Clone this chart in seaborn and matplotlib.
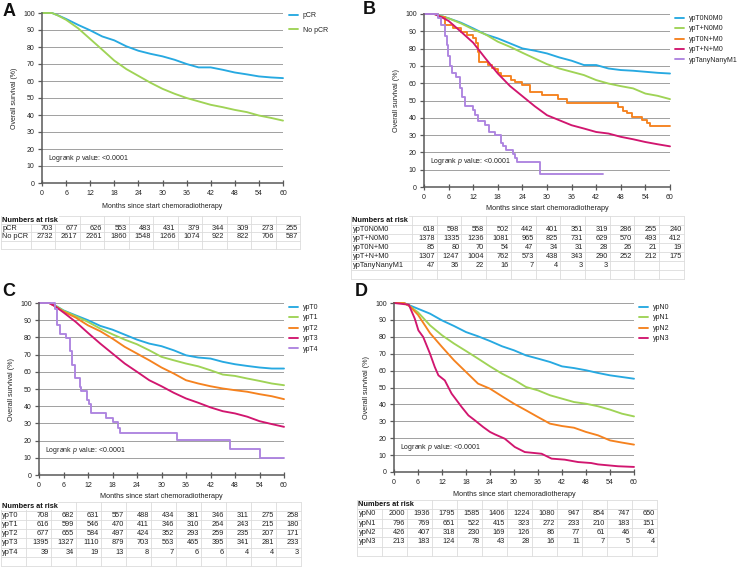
import matplotlib
matplotlib.use("Agg")
import matplotlib.pyplot as plt
import seaborn as sns

# =============================
# Data
# =============================
months = [0, 2.5, 4, 6, 9, 12, 15, 18, 21, 24, 27, 30, 33, 36, 39, 42, 45, 48, 51, 54, 57, 60]

# Panel A
os_pcr = [100, 100, 98.6, 96.5, 93, 89.8, 86.2, 83.9, 80.4, 77.8, 76, 74.5, 72.5, 70, 68, 68, 66.6, 65, 63.9, 62.7, 62.1, 61.7]
os_no_pcr = [100, 100, 98.5, 96, 91, 84.7, 78.4, 72, 67, 63, 59, 55.4, 52.5, 50, 48, 46, 44.6, 43, 41.7, 39.7, 38.3, 36.7]

# Panel B
os_t0n0m0 = [100, 100, 99, 97.5, 95, 91.7, 88.2, 85.9, 83, 80.1, 78.8, 77.2, 74.9, 73, 70.5, 70.5, 68.5, 67.6, 67.2, 66.6, 66, 65.6]
os_tpn0m0 = [100, 100, 99, 97.5, 94.6, 91.1, 88.2, 84, 81, 77.6, 74.3, 71, 68.5, 66.6, 64.7, 61.8, 59.8, 58.3, 57, 54, 52.7, 50.8]
os_tpnpm0 = [100, 100, 98.5, 96, 89.8, 83.4, 74.3, 65.6, 58.3, 52.5, 46.7, 41.5, 38.6, 35.7, 33.8, 31.8, 30.9, 29, 27.6, 26, 24.7, 23.5]
t_t0npm0 = [0, 3.5, 5, 7, 9, 10.5, 12, 12.8, 13.1, 13.5, 15.6, 16.5, 17.3, 18.1, 18.9, 21.3, 22.2, 23.8, 25.8, 28.7, 32.7, 34.8, 47.4, 48.6, 49.4, 50.7, 53.1, 54.3, 55.1, 60]
os_t0npm0 = [100, 98, 93.5, 92, 89.5, 87.8, 86, 83, 78, 72, 70.5, 69, 68, 66, 64, 62, 60.5, 59, 55, 53, 51, 48.5, 46.5, 44, 42.5, 40.5, 39, 37, 35, 35]
t_m1 = [0, 3.5, 4.2, 5, 5.5, 5.9, 6.3, 6.8, 7.9, 8.7, 9.3, 9.9, 12, 12.4, 13.2, 14.8, 15.8, 17.3, 18.9, 19.3, 20.1, 21.7, 22.3, 22.8, 28.3, 43.7]
os_m1 = [100, 97.8, 93.5, 87.5, 82, 76, 70, 66, 63.5, 57, 52, 47, 44.7, 41.5, 38.3, 35.7, 31.9, 29.8, 25.5, 23.5, 21.3, 19, 17, 14.5, 7.3, 7.3]

# Panel C
os_t0 = [100, 100, 98.5, 95.7, 92.8, 90, 86.7, 84.5, 81.6, 78.7, 76.4, 74.9, 72.5, 69.6, 68.3, 67.7, 65.8, 64.4, 63.4, 62.5, 61.9, 61.9]
os_t1 = [100, 100, 98.5, 95.5, 92.3, 89, 85.1, 81.8, 78.7, 76, 72.5, 68.7, 66.7, 64.8, 63.2, 60.9, 58.4, 57.6, 56.1, 54.7, 53.2, 52.2]
os_t2 = [100, 100, 98, 95, 91.5, 87, 83.6, 79.3, 74.5, 70.6, 66.7, 62.5, 59, 55.1, 53.2, 51.6, 50.3, 49.3, 48.4, 47, 45.8, 44.1]
os_t3 = [100, 100, 98, 94.5, 89, 82.6, 76.4, 70.6, 64.8, 60, 55.1, 51.6, 47.8, 44.5, 42, 39.3, 37.1, 35.8, 33.9, 31.3, 29.6, 28]
t_t4 = [0, 3.9, 4.4, 5.2, 6.7, 7.5, 8.2, 8.7, 10, 10.4, 11.8, 12.3, 12.8, 16.5, 18, 19.4, 19.9, 33.7, 46.8, 54, 60]
os_t4 = [100, 96.7, 87, 82, 79.5, 72, 64, 56.5, 51.3, 48.7, 43.6, 41, 35.9, 33, 30.8, 27.3, 24.2, 20.4, 15.3, 10.1, 10.1]

# Panel D
os_n0 = [100, 100, 98.5, 96.6, 93.7, 89.7, 86.4, 82.8, 80.3, 77.5, 74.4, 72, 69, 67.1, 65.1, 62.5, 61.5, 60.2, 58.6, 57.2, 56.2, 55.2]
os_n1 = [100, 100, 98, 94.5, 86.8, 80.9, 76, 71.6, 67.1, 62.5, 58.2, 54.6, 50.3, 48.3, 45.4, 43.4, 41.4, 40.4, 38.9, 36.9, 34.5, 32.9]
os_n2 = [100, 100, 98, 93, 82.2, 74, 66.1, 59.2, 52.3, 49.3, 44.8, 40.4, 36.5, 32.5, 28.6, 27.2, 26.2, 23.7, 21.7, 18.7, 17.4, 16.2]
t_n3 = [0, 3.7, 5.2, 6.1, 7.3, 9, 10.2, 11.1, 12.7, 14.4, 16.9, 18.6, 20.2, 22.3, 24, 25.2, 27.7, 30.2, 32.7, 36.9, 39.4, 42.7, 46, 49.3, 51, 56, 60]
os_n3 = [100, 99, 90.7, 83.8, 79.9, 70, 62.1, 57.2, 54.2, 46.4, 38.5, 33.5, 30.6, 26.6, 23.7, 22.3, 19.7, 14.8, 11.8, 10.8, 7.9, 7.3, 5.9, 5.3, 4.5, 3.4, 3]

# Numbers at risk
risk_a = {"pCR": [703, 677, 626, 553, 483, 431, 379, 344, 309, 273, 255],
          "No pCR": [2732, 2617, 2261, 1860, 1548, 1266, 1074, 922, 822, 706, 587]}
risk_b = {"ypT0N0M0": [618, 598, 558, 502, 442, 401, 351, 319, 286, 255, 240],
          "ypT+N0M0": [1378, 1335, 1236, 1081, 965, 825, 731, 629, 570, 493, 412],
          "ypT0N+M0": [85, 80, 70, 54, 47, 34, 31, 28, 26, 21, 19],
          "ypT+N+M0": [1307, 1247, 1004, 762, 573, 438, 343, 290, 252, 212, 175],
          "ypTanyNanyM1": [47, 36, 22, 16, 7, 4, 3, 3, None, None, None]}
risk_c = {"ypT0": [708, 682, 631, 557, 488, 434, 381, 346, 311, 275, 258],
          "ypT1": [616, 599, 546, 470, 411, 346, 310, 264, 243, 215, 180],
          "ypT2": [677, 655, 584, 497, 424, 352, 293, 259, 235, 207, 171],
          "ypT3": [1395, 1327, 1110, 879, 703, 563, 465, 395, 341, 281, 233],
          "ypT4": [39, 34, 19, 13, 8, 7, 6, 6, 4, 4, 3]}
risk_d = {"ypN0": [2000, 1936, 1795, 1585, 1406, 1224, 1080, 947, 854, 747, 650],
          "ypN1": [796, 769, 651, 522, 415, 323, 272, 233, 210, 183, 151],
          "ypN2": [426, 407, 318, 230, 169, 126, 86, 77, 61, 46, 40],
          "ypN3": [213, 183, 124, 78, 43, 28, 16, 11, 7, 5, 4]}

CYAN, GREEN, ORANGE, MAGENTA, PURPLE = "#27a9e1", "#9fd356", "#f5821f", "#d1166f", "#ad84e0"

# =============================
# Figure setup
# =============================
sns.set_style("white")
plt.rcParams["font.family"] = ["Liberation Sans", "DejaVu Sans"]
plt.rcParams["mathtext.fontset"] = "custom"
plt.rcParams["mathtext.it"] = "Liberation Sans:italic"
plt.rcParams["mathtext.rm"] = "Liberation Sans"

W, H = 738, 568
FS = 5.0       # ticks, legend, logrank note
TFS = 5.3      # risk tables
fig = plt.figure(figsize=(W / 100, H / 100), dpi=100)

# overlay in pixel units for tables and panel letters
over = fig.add_axes([0, 0, 1, 1])
over.set_xlim(0, W)
over.set_ylim(H, 0)
over.axis("off")


def px_axes(left, top, width, height):
    return fig.add_axes([left / W, 1 - (top + height) / H, width / W, height / H])


def km_panel(box, curves, leg_xy, leg_space, ylab_x, xlab_y, lab_fs=5.2):
    left, top, width, height = box
    ax = px_axes(*box)
    for label, t, s, color, steps in curves:
        sns.lineplot(x=t, y=s, ax=ax, color=color, lw=1.35, label=label,
                     estimator=None, sort=False, clip_on=False,
                     drawstyle="steps-post" if steps else "default")
    ax.set_xlim(0, 60)
    ax.set_ylim(0, 100)
    ax.set_xticks(range(0, 61, 6))
    ax.set_yticks(range(0, 101, 10))
    ax.grid(axis="y", color="#a0a0a0", lw=0.7)
    ax.grid(axis="x", visible=False)
    ax.set_axisbelow(True)
    for sp in ["top", "right"]:
        ax.spines[sp].set_visible(False)
    for sp in ["left", "bottom"]:
        ax.spines[sp].set_color("#595959")
        ax.spines[sp].set_linewidth(1.1)
    ax.tick_params(axis="x", bottom=True, direction="inout", length=5, width=0.9,
                   color="#595959", labelsize=FS, pad=2.3, labelcolor="#222222")
    ax.tick_params(axis="y", left=True, direction="out", length=3, width=0.9,
                   color="#595959", labelsize=FS, pad=2.3, labelcolor="#222222")
    ax.set_xlabel("Months since start chemoradiotherapy", fontsize=lab_fs, color="#222222")
    ax.set_ylabel("Overall survival (%)", fontsize=lab_fs, color="#222222")
    ax.xaxis.label.set_va("center")
    ax.yaxis.label.set_va("center")
    ax.xaxis.set_label_coords(0.5, -(xlab_y - top - height) / height)
    ax.yaxis.set_label_coords(-(left - ylab_x) / width, 0.5)
    ax.text(1.5, 14.5, r"Logrank $p$ value: <0.0001", fontsize=FS, va="center", color="#222222")
    ax.legend(loc="upper left", bbox_to_anchor=(leg_xy[0] / W, 1 - leg_xy[1] / H),
              bbox_transform=fig.transFigure, frameon=False, fontsize=FS,
              borderpad=0, borderaxespad=0, handlelength=1.3, handletextpad=0.7,
              labelspacing=leg_space, labelcolor="#222222")
    return ax


def risk_table(x0, xl, cw, top, rh, rows, n_empty=1):
    ncol = 11
    right = xl + cw * ncol
    nrows = 1 + len(rows) + n_empty
    bottom = top + nrows * rh
    grid_kw = dict(color="#dcdcdc", lw=0.6)
    for i in range(nrows + 1):
        over.plot([x0, right], [top + i * rh] * 2, **grid_kw)
    for x in [x0] + [xl + k * cw for k in range(ncol + 1)]:
        over.plot([x, x], [top, bottom], **grid_kw)
    over.text(x0 + 1.5, top + rh / 2, "Numbers at risk", fontsize=TFS, fontweight="bold",
              va="center", color="#111111",
              bbox=dict(facecolor="white", edgecolor="none", pad=0.4))
    for i, (label, vals) in enumerate(rows.items()):
        y = top + (i + 1.5) * rh
        over.text(x0 + 1.5, y, label, fontsize=TFS, va="center", color="#222222")
        for k, v in enumerate(vals):
            if v is not None:
                over.text(xl + (k + 1) * cw - 2, y, str(v), fontsize=TFS, va="center",
                          ha="right", color="#222222")


# Panel A
km_panel((42, 13, 241, 170),
         [("pCR", months, os_pcr, CYAN, False),
          ("No pCR", months, os_no_pcr, GREEN, False)],
         (289, 12), 1.1, 15, 207, lab_fs=5.0)
risk_table(1, 30.5, 24.5, 216, 8.2, risk_a)

# Panel B
km_panel((424, 14, 246, 173),
         [("ypT0N0M0", months, os_t0n0m0, CYAN, False),
          ("ypT+N0M0", months, os_tpn0m0, GREEN, False),
          ("ypT0N+M0", t_t0npm0, os_t0npm0, ORANGE, True),
          ("ypT+N+M0", months, os_tpnpm0, MAGENTA, False),
          ("ypTanyNanyM1", t_m1, os_m1, PURPLE, True)],
         (675, 15), 0.5, 397, 208)
risk_table(351, 412, 24.7, 215.5, 9.1, risk_b)

# Panel C
km_panel((39, 303, 245, 172),
         [("ypT0", months, os_t0, CYAN, False),
          ("ypT1", months, os_t1, GREEN, False),
          ("ypT2", months, os_t2, ORANGE, False),
          ("ypT3", months, os_t3, MAGENTA, False),
          ("ypT4", t_t4, os_t4, PURPLE, True)],
         (289, 304), 0.5, 12, 496)
risk_table(0.5, 26, 25, 501.5, 9.2, risk_c)

# Panel D
km_panel((394, 303, 240, 169),
         [("ypN0", months, os_n0, CYAN, False),
          ("ypN1", months, os_n1, GREEN, False),
          ("ypN2", months, os_n2, ORANGE, False),
          ("ypN3", t_n3, os_n3, MAGENTA, False)],
         (639, 304), 0.5, 367, 495)
risk_table(357, 382, 25, 500, 9.3, risk_d)

# Panel letters
for letter, x, y in [("A", 9, 11), ("B", 369, 10), ("C", 9, 291), ("D", 361, 292)]:
    over.text(x, y, letter, fontsize=13, fontweight="bold", ha="center", va="center", color="#111111")

fig.savefig("out.png", dpi=100)
